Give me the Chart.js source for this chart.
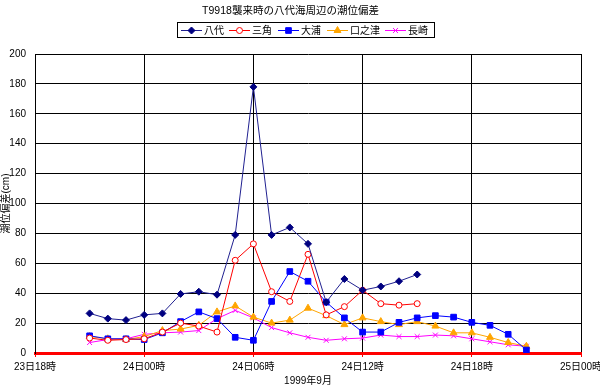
<!DOCTYPE html>
<html>
<head>
<meta charset="utf-8">
<script src="https://cdn.jsdelivr.net/npm/chart.js@4"></script>
<style>
  html, body { margin: 0; padding: 0; background: #fff; }
  #wrap { width: 600px; height: 385px; }
</style>
</head>
<body>
<div id="wrap"><canvas id="tideChart" width="600" height="385"></canvas></div>
<script>
// hours counted from 23日18時
const tickLabels = ["23日18時", "24日00時", "24日06時", "24日12時", "24日18時", "25日00時"];
const hours = [3, 4, 5, 6, 7, 8, 9, 10, 11, 12, 13, 14, 15, 16, 17, 18, 19, 20, 21, 22, 23, 24, 25, 26, 27];

const yatsushiro = [26.5, 23, 22, 25.5, 26.5, 39.5, 41, 39, 79, 178, 79, 84, 73, 34, 49.5, 42, 44.5, 48, 52.5];
const misumi = [10, 8.5, 9, 9.5, 14, 20, 18, 14, 62, 73, 41, 34.5, 66, 25.5, 31, 42, 33, 32, 33];
const ooura = [11.5, 9.5, 9.5, 9, 13.5, 21, 27.5, 23, 10.5, 8.5, 34.5, 54.5, 48, 34, 23.5, 14, 14, 20.5, 23.5, 25, 24, 20.5, 18.5, 12.5, 2];
const kuchinotsu = [11, 9.5, 9, 11, 15, 16, 18.5, 27.5, 31.5, 24, 20, 22, 30, 25, 19, 23.5, 21, 19, 21, 18, 13.5, 13.5, 10.5, 7, 4.5];
const nagasaki = [7, 9, 9.5, 12.5, 13.5, 14, 15, 23, 28.5, 23.5, 17, 13.5, 10.5, 8.5, 9.5, 10, 12, 11, 11, 12, 11.5, 9.5, 7.5, 5.5, 4.5];

function toPoints(values) {
  return values.map((v, i) => ({ x: hours[i], y: v }));
}

const FONT = '"Liberation Sans", "Noto Sans CJK JP", sans-serif';

// legend drawn by hand so it shows line + marker like the original
const legendBox = {
  id: "legendBox",
  afterDraw(chart) {
    const ctx = chart.ctx;
    const starts = [181, 229, 278, 327, 385];
    const y = 30;
    ctx.save();
    ctx.strokeStyle = "#000";
    ctx.lineWidth = 1;
    ctx.strokeRect(177.5, 22.5, 257, 15);
    ctx.font = "10px " + FONT;
    ctx.textBaseline = "middle";
    chart.data.datasets.forEach((ds, i) => {
      const x = starts[i];
      ctx.strokeStyle = ds.borderColor;
      ctx.lineWidth = 1;
      ctx.beginPath();
      ctx.moveTo(x, y + 0.5);
      ctx.lineTo(x + 21, y + 0.5);
      ctx.stroke();
      ctx.fillStyle = ds.pointBackgroundColor;
      ctx.strokeStyle = ds.pointBorderColor;
      Chart.helpers.drawPoint(ctx, {
        pointStyle: ds.pointStyle,
        radius: ds.pointRadius,
        borderWidth: 1,
        rotation: 0,
      }, x + 10.5, y + 0.5);
      ctx.fillStyle = "#000";
      ctx.fillText(ds.label, x + 23, y + 1);
    });
    ctx.restore();
  },
};

const ctx = document.getElementById("tideChart").getContext("2d");

new Chart(ctx, {
  type: "line",
  data: {
    datasets: [
      {
        label: "八代",
        data: toPoints(yatsushiro),
        borderColor: "#202090",
        pointBackgroundColor: "#000080",
        pointBorderColor: "#000080",
        pointStyle: "rectRot",
        pointRadius: 3.5,
      },
      {
        label: "三角",
        data: toPoints(misumi),
        borderColor: "#ff0000",
        pointBackgroundColor: "#ffffff",
        pointBorderColor: "#ff0000",
        pointStyle: "circle",
        pointRadius: 3,
      },
      {
        label: "大浦",
        data: toPoints(ooura),
        borderColor: "#0000ff",
        pointBackgroundColor: "#0000ff",
        pointBorderColor: "#0000ff",
        pointStyle: "rect",
        pointRadius: 4,
      },
      {
        label: "口之津",
        data: toPoints(kuchinotsu),
        borderColor: "#ffa500",
        pointBackgroundColor: "#ffa500",
        pointBorderColor: "#ffa500",
        pointStyle: "triangle",
        pointRadius: 4,
      },
      {
        label: "長崎",
        data: toPoints(nagasaki),
        borderColor: "#ff00ff",
        pointBackgroundColor: "#ff00ff",
        pointBorderColor: "#ff00ff",
        pointStyle: "crossRot",
        pointRadius: 3.5,
      },
    ],
  },
  options: {
    responsive: false,
    animation: false,
    layout: { padding: { top: 0, right: 19, left: 0, bottom: 0 } },
    elements: {
      line: { borderWidth: 1, tension: 0, fill: false },
      point: { borderWidth: 1 },
    },
    plugins: {
      legend: { display: false },
      tooltip: { enabled: false },
      title: {
        display: true,
        text: "T9918襲来時の八代海周辺の潮位偏差",
        color: "#000",
        font: { family: FONT, size: 10.5, weight: "normal" },
        padding: { top: 5, bottom: 36.4 },
      },
    },
    scales: {
      x: {
        type: "linear",
        min: 0,
        max: 30,
        afterFit: (scale) => {
          scale.height = 32;
          scale.paddingLeft = 0;
          scale.paddingRight = 0;
        },
        ticks: {
          stepSize: 6,
          color: "#000",
          maxRotation: 0,
          padding: 4,
          font: { family: FONT, size: 10 },
          callback: (v) => tickLabels[v / 6],
        },
        grid: {
          color: "#000",
          tickColor: "#ff0000",
          tickLength: 4,
          lineWidth: 1,
        },
        border: { color: "#ff0000", width: 3 },
        title: {
          display: true,
          text: "1999年9月",
          color: "#000",
          font: { family: FONT, size: 10 },
          padding: { top: 0, bottom: -2 },
        },
      },
      y: {
        min: 0,
        max: 200,
        afterFit: (scale) => {
          scale.width = 35;
        },
        ticks: {
          stepSize: 20,
          color: "#000",
          padding: 9,
          font: { family: FONT, size: 10 },
        },
        grid: { color: "#000", drawTicks: false, lineWidth: 1 },
        border: { color: "#000", width: 1 },
        title: {
          display: true,
          text: "潮位偏差(cm)",
          color: "#000",
          font: { family: FONT, size: 10 },
          padding: { top: 0, bottom: 0 },
        },
      },
    },
  },
  plugins: [legendBox],
});
</script>
</body>
</html>
